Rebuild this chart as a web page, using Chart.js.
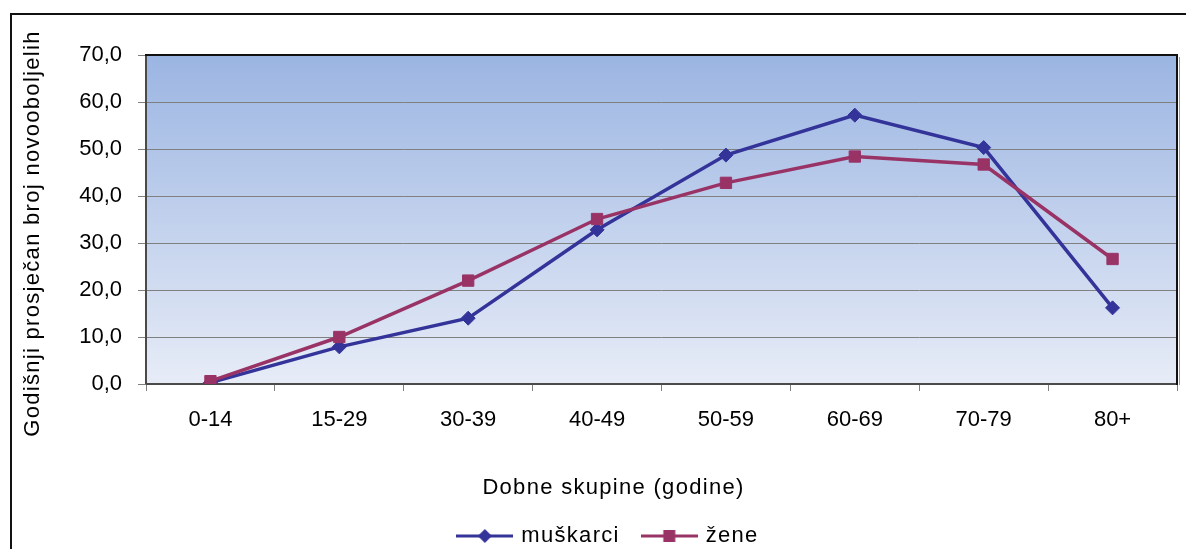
<!DOCTYPE html>
<html>
<head>
<meta charset="utf-8">
<script src="https://cdn.jsdelivr.net/npm/chart.js@4.4.1/dist/chart.umd.min.js"></script>
<style>
  html, body { margin: 0; padding: 0; background: #fff; overflow: hidden; }
  #wrap { width: 1186px; height: 549px; }
</style>
</head>
<body>
<div id="wrap"><canvas id="chart"></canvas></div>
<script>
// ================================
// Data
// ================================
const ageGroups = ["0-14", "15-29", "30-39", "40-49", "50-59", "60-69", "70-79", "80+"];
const muskarci = [0.3, 7.9, 14.0, 32.8, 48.7, 57.2, 50.3, 16.2];
const zene = [0.6, 10.0, 22.0, 35.1, 42.8, 48.4, 46.7, 26.6];
const seriesNames = ["muškarci", "žene"];
const yMin = 0, yMax = 70, yStep = 10;

const blue = "#333399";
const plum = "#993366";
const font = { family: "'Liberation Sans', Arial, sans-serif", size: 22 };

// Excel-style text is a bit wider: add letter spacing to titles and legend
const spacing = "1.3px";
const titleShift = { x: [-48, 0], y: [-21, 14] };
const baseDrawTitle = Chart.Scale.prototype.drawTitle;
Chart.Scale.prototype.drawTitle = function () {
    const s = titleShift[this.id] || [0, 0];
    this.ctx.save();
    this.ctx.translate(s[0], s[1]);
    this.ctx.letterSpacing = spacing;
    baseDrawTitle.call(this);
    this.ctx.restore();
};
const LegendEl = Chart.Legend && Chart.Legend._element;
if (LegendEl) {
    ["fit", "draw"].forEach(m => {
        const f = LegendEl.prototype[m];
        LegendEl.prototype[m] = function () {
            this.ctx.save();
            this.ctx.letterSpacing = spacing;
            const r = f.apply(this, arguments);
            this.ctx.restore();
            return r;
        };
    });
}

// Legend symbol: line with marker in the middle
function legendIcon(color, shape) {
    const c = document.createElement("canvas");
    c.width = 57; c.height = 16;
    const g = c.getContext("2d");
    g.strokeStyle = color; g.lineWidth = 3;
    g.beginPath(); g.moveTo(0, 8); g.lineTo(57, 8); g.stroke();
    g.fillStyle = color; g.beginPath();
    if (shape === "diamond") {
        g.moveTo(28.5, 1); g.lineTo(35.5, 8); g.lineTo(28.5, 15); g.lineTo(21.5, 8);
    } else {
        g.rect(22.5, 2, 12, 12);
    }
    g.fill();
    return c;
}
const icons = [legendIcon(blue, "diamond"), legendIcon(plum, "square")];

// Background gradient, outer frame and plot border
const framePlugin = {
    id: "frame",
    beforeDraw(chart) {
        const { ctx, chartArea: a } = chart;
        ctx.save();
        ctx.strokeStyle = "#111"; ctx.lineWidth = 2;
        ctx.strokeRect(11, 14, 1400, 800);
        const grad = ctx.createLinearGradient(0, a.top, 0, a.bottom);
        grad.addColorStop(0, "#9bb5e2");
        grad.addColorStop(1, "#e7ecf7");
        ctx.fillStyle = grad;
        ctx.fillRect(a.left, a.top, a.right - a.left, a.bottom - a.top);
        ctx.restore();
    },
    beforeDatasetsDraw(chart) {
        const { ctx, chartArea: a } = chart;
        ctx.save();
        ctx.strokeStyle = "#999"; ctx.lineWidth = 1;
        ctx.beginPath(); ctx.moveTo(a.right + 2.5, a.top + 2); ctx.lineTo(a.right + 2.5, a.bottom + 1); ctx.stroke();
        ctx.lineWidth = 2;
        ctx.strokeStyle = "#4a4a4a";
        ctx.beginPath(); ctx.moveTo(a.left, a.bottom); ctx.lineTo(a.left, a.top); ctx.stroke();
        ctx.beginPath(); ctx.moveTo(a.left, a.bottom); ctx.lineTo(a.right, a.bottom); ctx.stroke();
        ctx.strokeStyle = "#111";
        ctx.beginPath(); ctx.moveTo(a.left - 1, a.top); ctx.lineTo(a.right, a.top); ctx.lineTo(a.right, a.bottom + 1); ctx.stroke();
        ctx.restore();
    }
};

const chart = new Chart(document.getElementById("chart"), {
    type: "line",
    data: {
        labels: ageGroups,
        datasets: [{
            label: seriesNames[0],
            data: muskarci,
            borderColor: blue,
            backgroundColor: blue,
            borderWidth: 3.5,
            pointStyle: "rectRot",
            pointRadius: 7,
            pointBorderWidth: 1,
            tension: 0,
            order: 1
        }, {
            label: seriesNames[1],
            data: zene,
            borderColor: plum,
            backgroundColor: plum,
            borderWidth: 3.5,
            pointStyle: "rect",
            pointRadius: 8,
            pointBorderWidth: 1,
            tension: 0,
            order: 0
        }]
    },
    options: {
        responsive: true,
        maintainAspectRatio: false,
        animation: false,
        layout: { padding: { left: 41, right: 9, top: 55, bottom: -8 } },
        plugins: {
            tooltip: { enabled: false },
            legend: {
                position: "bottom",
                labels: {
                    usePointStyle: true,
                    pointStyleWidth: 51,
                    padding: 24,
                    color: "#000",
                    font: font,
                    generateLabels: c => c.data.datasets.map((ds, i) => ({
                        text: ds.label,
                        pointStyle: icons[i],
                        fillStyle: ds.borderColor,
                        strokeStyle: ds.borderColor,
                        lineWidth: 0,
                        hidden: false,
                        datasetIndex: i
                    }))
                }
            }
        },
        scales: {
            x: {
                offset: true,
                grid: { drawOnChartArea: false, drawTicks: true, tickLength: 7, color: "#808080", offset: true },
                border: { display: false },
                ticks: { padding: 16, color: "#000", font: font, maxRotation: 0 },
                title: { display: true, text: "Dobne skupine (godine)", color: "#000", font: font, padding: 0 },
                afterFit: s => { s.height = 117; }
            },
            y: {
                min: yMin,
                max: yMax,
                grid: { color: "#808080", tickLength: 8 },
                border: { display: false },
                ticks: {
                    stepSize: yStep,
                    padding: 16,
                    color: "#000",
                    font: font,
                    callback: v => v.toFixed(1).replace(".", ",")
                },
                title: { display: true, text: "Godišnji prosječan broj novooboljelih", color: "#000", font: font, padding: 0 },
                afterFit: s => { s.width = 105; }
            }
        }
    },
    plugins: [framePlugin]
});
</script>
</body>
</html>
